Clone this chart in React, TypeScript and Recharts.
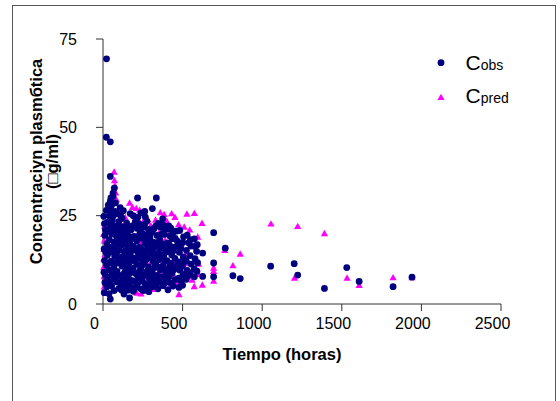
import { Legend, Scatter, ScatterChart, XAxis, YAxis } from "recharts";

const timeTicks = [0, 500, 1000, 1500, 2000, 2500];
const concTicks = [0, 25, 50, 75];

// [tiempo (h), concentración]
const cObs: [number, number][] = [
  [22, 69.4], [21, 47.2], [46, 45.9], [46, 36.1], [71, 32.8], [63, 31.4], [63, 30.5], [50, 30.0],
  [46, 29.1], [46, 26.7], [21, 26.5], [217, 30.0], [335, 30.0], [310, 27.0], [171, 25.6], [239, 25.8],
  [266, 24.6], [695, 20.2], [768, 15.8], [695, 11.6], [695, 7.7], [626, 14.4], [626, 7.8], [574, 7.7],
  [816, 8.0], [862, 7.2], [1053, 10.7], [1201, 11.4], [1223, 8.2], [1531, 10.3], [1609, 6.4], [1391, 4.4],
  [1822, 4.9], [1941, 7.6], [46, 1.4], [167, 1.7], [140, 4.5], [408, 4.0], [477, 4.7],
  [190, 25.0], [262, 26.2], [128, 26.4], [375, 24.1],
  [8, 3.2], [12, 6.1], [6, 9.0], [10, 12.3], [7, 15.6], [12, 19.4], [9, 22.7], [5, 24.8],
  [24, 4.9], [28, 7.6], [22, 10.9], [27, 13.8], [25, 17.1], [30, 20.6], [26, 23.1], [33, 28.0],
  [38, 2.9], [42, 5.8], [40, 9.6], [44, 14.6], [39, 18.2], [43, 21.3], [41, 24.9],
  [54, 5.1], [58, 8.3], [52, 12.1], [57, 16.0], [55, 19.8], [59, 23.8], [53, 27.9],
  [70, 3.8], [72, 7.0], [68, 10.4], [74, 13.5], [69, 17.6], [73, 22.0], [76, 26.2], [78, 28.6],
  [86, 6.3], [88, 9.2], [84, 14.0], [90, 18.7], [87, 21.1], [92, 25.5], [82, 11.6],
  [100, 4.4], [104, 8.1], [98, 11.8], [102, 15.2], [106, 20.0], [99, 23.3], [108, 27.3],
  [16, 8.0], [18, 14.7], [15, 21.0], [35, 11.5], [36, 16.0], [48, 7.3], [49, 22.6], [64, 14.8],
  [62, 20.9], [63, 24.9], [79, 9.1], [80, 15.6], [80, 19.5], [95, 8.1], [94, 12.9], [95, 17.0],
  [96, 21.9], [110, 6.0], [112, 12.6], [111, 18.2], [113, 24.8],
  [118, 3.9], [122, 7.2], [119, 10.7], [124, 13.4], [121, 16.8], [117, 19.6], [125, 21.3], [120, 24.2],
  [131, 5.3], [134, 8.7], [130, 12.0], [133, 14.9], [135, 18.4], [129, 21.9], [132, 2.8],
  [146, 6.8], [143, 9.5], [148, 12.2], [144, 15.1], [147, 18.0], [142, 20.5], [149, 22.9],
  [156, 3.9], [158, 7.9], [155, 10.6], [159, 13.6], [154, 16.4], [157, 19.2], [160, 21.8],
  [165, 5.4], [170, 8.8], [166, 11.7], [172, 14.3], [168, 17.4], [163, 20.8],
  [179, 6.7], [182, 9.9], [178, 12.9], [181, 15.5], [183, 18.9], [177, 21.0], [180, 4.5],
  [190, 3.6], [194, 6.4], [189, 10.1], [195, 13.0], [191, 16.3], [196, 19.1], [188, 22.2],
  [202, 4.6], [205, 8.6], [201, 12.1], [204, 15.3], [206, 18.4], [203, 23.3],
  [213, 5.0], [218, 7.9], [214, 11.2], [219, 14.6], [212, 17.8], [216, 21.4], [220, 24.6],
  [226, 6.3], [229, 9.2], [225, 13.1], [228, 16.0], [230, 19.6], [224, 22.8],
  [238, 4.3], [243, 6.9], [237, 9.9], [242, 12.7], [239, 15.6], [244, 18.6], [236, 20.2],
  [251, 3.8], [254, 8.0], [250, 11.1], [253, 13.9], [249, 19.9], [252, 21.7],
  [263, 5.8], [268, 8.5], [262, 11.9], [267, 14.4], [264, 17.1], [269, 19.5], [261, 22.5],
  [275, 4.6], [278, 9.4], [274, 12.7], [277, 15.5], [279, 18.0], [276, 23.4],
  [288, 3.5], [292, 7.3], [287, 10.4], [293, 13.2], [289, 16.1], [294, 18.8], [286, 21.1],
  [299, 5.9], [302, 8.8], [301, 14.7], [303, 17.4], [297, 19.9],
  [310, 4.9], [315, 6.6], [309, 9.2], [314, 12.0], [311, 15.3], [316, 17.5], [308, 20.4],
  [322, 7.3], [325, 10.3], [321, 13.2], [324, 16.1], [320, 21.3],
  [333, 5.6], [338, 8.1], [332, 11.4], [337, 13.9], [334, 16.9], [339, 19.4], [331, 22.0],
  [345, 4.3], [348, 7.0], [344, 10.5], [347, 14.4], [349, 17.5], [346, 22.8],
  [356, 6.1], [361, 9.6], [355, 12.6], [360, 15.8], [357, 18.3], [362, 21.7],
  [367, 7.6], [366, 13.8], [369, 17.0], [371, 19.9], [365, 22.6],
  [378, 5.2], [383, 7.8], [377, 10.8], [382, 13.7], [379, 16.6], [384, 19.7], [376, 22.3],
  [391, 6.0], [394, 9.4], [390, 12.2], [393, 15.3], [389, 21.1],
  [403, 6.4], [408, 9.0], [402, 12.3], [407, 14.8], [404, 17.3], [409, 21.2],
  [415, 7.7], [418, 10.6], [417, 16.7], [419, 19.3], [413, 22.1],
  [428, 5.9], [433, 8.7], [427, 11.5], [432, 13.9], [429, 16.0], [434, 18.5], [426, 21.5],
  [440, 5.1], [443, 9.6], [442, 15.1], [438, 20.0],
  [453, 6.9], [458, 10.2], [452, 12.9], [457, 16.2], [454, 18.6], [459, 20.6],
  [468, 11.2], [467, 17.8],
  [476, 7.3], [481, 9.6], [475, 11.9], [480, 14.6], [477, 16.8], [482, 20.8],
  [489, 6.5], [488, 15.8],
  [500, 5.3], [505, 8.3], [499, 10.7], [504, 13.3], [501, 17.4], [506, 19.0],
  [515, 12.0],
  [523, 7.0], [528, 9.5], [522, 12.4], [524, 15.2], [529, 19.5],
  [536, 8.1], [538, 17.3],
  [548, 8.8], [553, 11.3], [547, 13.7], [552, 16.4], [549, 18.2],
  [573, 9.9], [578, 12.8], [577, 16.3], [574, 18.4],
  [590, 9.3], [594, 11.7], [588, 14.9], [592, 16.8],
];

const cPred: [number, number][] = [
  [70, 37.4], [72, 35.0], [75, 33.5], [167, 28.6], [185, 27.4], [209, 27.1], [230, 26.6], [360, 25.9],
  [384, 25.4], [431, 25.6], [452, 24.6], [527, 25.5], [574, 25.7], [622, 22.9], [400, 23.5], [330, 23.8],
  [280, 24.0], [475, 22.5], [510, 21.8], [545, 21.0], [300, 22.2], [250, 23.1], [140, 24.5], [110, 22.8],
  [95, 26.0], [85, 29.5], [80, 31.5],
  [5, 10.5], [5, 12.8], [6, 15.5], [8, 17.9], [4, 19.8], [6, 7.8], [8, 4.9], [10, 22.0], [12, 14.0],
  [120, 18.5], [150, 20.5], [180, 16.0], [210, 19.2], [240, 17.5], [260, 14.0], [280, 19.5], [320, 17.0],
  [350, 20.0], [370, 14.5], [390, 18.0], [420, 21.0], [440, 15.5], [460, 12.0], [490, 17.0], [520, 14.0],
  [540, 11.5], [560, 16.5], [580, 12.0], [595, 19.0], [600, 11.3], [598, 8.4], [560, 6.8], [530, 7.8],
  [500, 9.0], [470, 6.0], [440, 8.5], [410, 10.5], [380, 12.0], [350, 9.0], [320, 6.5], [290, 11.0],
  [260, 7.5], [230, 9.5], [200, 12.5], [170, 10.0], [140, 7.0], [110, 11.5], [90, 14.5],
  [213, 3.1], [239, 2.9], [250, 3.6], [477, 2.7], [573, 5.0], [624, 5.4], [320, 4.2], [150, 4.0], [420, 5.1],
  [695, 10.2], [695, 9.3], [695, 6.5], [765, 15.2], [816, 10.9], [862, 14.2], [1055, 22.7], [1223, 22.0],
  [1391, 20.0], [1203, 7.4], [1533, 7.4], [1609, 5.3], [1822, 7.5], [1941, 7.5],
];

const NAVY = "#000080";
const MAGENTA = "#FF00FF";
const FONT = '"Liberation Sans", Arial, sans-serif';

const toRows = (pts: [number, number][]) => pts.map(([t, c]) => ({ t, c }));

const Dot = (p: any) => <circle cx={p.cx} cy={p.cy} r={3.4} fill={NAVY} />;

const Tri = (p: any) => {
  const { cx, cy } = p;
  return (
    <polygon
      points={`${cx},${cy - 3.6} ${cx + 3.6},${cy + 2.8} ${cx - 3.6},${cy + 2.8}`}
      fill={MAGENTA}
    />
  );
};

const YTitle = (props: any) => {
  const vb = props.viewBox;
  const cy = vb.y + vb.height / 2 - 10;
  return (
    <g fontFamily={FONT} fontWeight="bold" fontSize={16.5} fill="#000">
      <text transform="rotate(-90)" x={-cy} y={41.5} textAnchor="middle">
        Concentraciyn plasmбtica
      </text>
      <text transform="rotate(-90)" x={-cy} y={57.5} textAnchor="middle">
        (□g/ml)
      </text>
    </g>
  );
};

const LegendBox = () => (
  <svg width={110} height={80} style={{ display: "block" }}>
    <circle cx={21} cy={22.7} r={3.4} fill={NAVY} />
    <text x={45.6} y={30} fontFamily={FONT} fill="#000">
      <tspan fontSize={21}>C</tspan>
      <tspan fontSize={14}>obs</tspan>
    </text>
    <Tri cx={21} cy={57.3} />
    <text x={45.6} y={63.3} fontFamily={FONT} fill="#000">
      <tspan fontSize={21}>C</tspan>
      <tspan fontSize={14}>pred</tspan>
    </text>
  </svg>
);

export default function App() {
  return (
    <div style={{ position: "absolute", left: 0, top: 0, width: 560, height: 401, overflow: "hidden", background: "#fff" }}>
      <div
        style={{
          position: "absolute",
          left: 12,
          top: 5,
          width: 542,
          height: 430,
          border: "1.5px solid #555",
        }}
      />
      <div style={{ position: "absolute", left: 0, top: 0 }}>
        <ScatterChart width={560} height={401} margin={{ top: 39, right: 59, bottom: 37, left: 0 }}>
          <XAxis
            type="number"
            dataKey="t"
            domain={[0, 2500]}
            ticks={timeTicks}
            interval={0}
            height={60}
            tickSize={7}
            tickMargin={7}
            axisLine={{ stroke: "#333" }}
            tickLine={{ stroke: "#333" }}
            tick={{ fill: "#000", fontSize: 16, fontFamily: FONT, dx: -8.5 }}
            label={{
              value: "Tiempo (horas)",
              position: "insideBottom",
              offset: 4,
              dx: -20,
              fill: "#000",
              fontSize: 16.5,
              fontWeight: "bold",
              fontFamily: FONT,
            }}
          />
          <YAxis
            type="number"
            dataKey="c"
            domain={[0, 75]}
            ticks={concTicks}
            interval={0}
            width={103}
            tickSize={7}
            tickMargin={19}
            axisLine={{ stroke: "#333" }}
            tickLine={{ stroke: "#333" }}
            tick={{ fill: "#000", fontSize: 16, fontFamily: FONT }}
            label={YTitle}
          />
          <Legend
            content={LegendBox}
            layout="horizontal"
            verticalAlign="middle"
            align="center"
            wrapperStyle={{ left: 420, top: 40, width: 110, height: 80 }}
          />
          <Scatter name="Cpred" data={toRows(cPred)} shape={Tri} isAnimationActive={false} />
          <Scatter name="Cobs" data={toRows(cObs)} shape={Dot} isAnimationActive={false} />
        </ScatterChart>
      </div>
    </div>
  );
}
